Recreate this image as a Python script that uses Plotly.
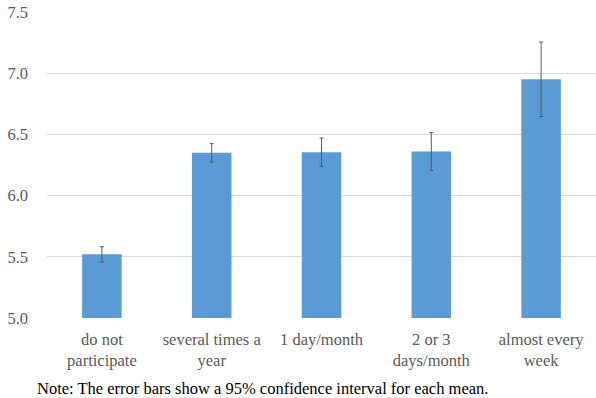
import plotly.graph_objects as go

categories = ["do not<br>participate", "several times a<br>year", "1 day/month",
              "2 or 3<br>days/month", "almost every<br>week"]
means = [5.52, 6.35, 6.355, 6.36, 6.95]
ci_half = [0.062, 0.075, 0.115, 0.155, 0.305]
y_ticks = [5.0, 5.5, 6.0, 6.5, 7.0, 7.5]
note = "Note: The error bars show a 95% confidence interval for each mean."

font_family = "Liberation Serif"

fig = go.Figure(go.Bar(
    x=categories, y=means,
    marker=dict(color="#5B9BD5", line=dict(width=0)),
    width=0.36,
    error_y=dict(type="data", array=ci_half, visible=True,
                 color="#595959", thickness=1, width=2),
))

fig.update_layout(
    width=596, height=398,
    margin=dict(l=47, r=0, t=12, b=80),
    paper_bgcolor="white", plot_bgcolor="white",
    font=dict(family=font_family, size=16.5, color="#595959"),
    showlegend=False,
)
fig.update_yaxes(range=[5.0, 7.5], tickvals=y_ticks, tickformat=".1f",
                 showgrid=True, gridcolor="#d9d9d9", gridwidth=1,
                 zeroline=False, showline=False, ticks="",
                 ticklabelstandoff=18, tickfont=dict(size=16.5, family=font_family))
fig.update_xaxes(showgrid=False, showline=False, zeroline=False, ticks="",
                 ticklabelstandoff=9, tickfont=dict(size=16.5, family=font_family))

fig.add_annotation(text=note, xref="paper", yref="paper",
                   x=(35 - 47) / 549, y=-70 / 306, xanchor="left", yanchor="middle",
                   showarrow=False, font=dict(size=16.5, color="black", family=font_family))

fig.write_html("out.html", post_script="document.body.style.margin='0';",
               config={"displayModeBar": False})
